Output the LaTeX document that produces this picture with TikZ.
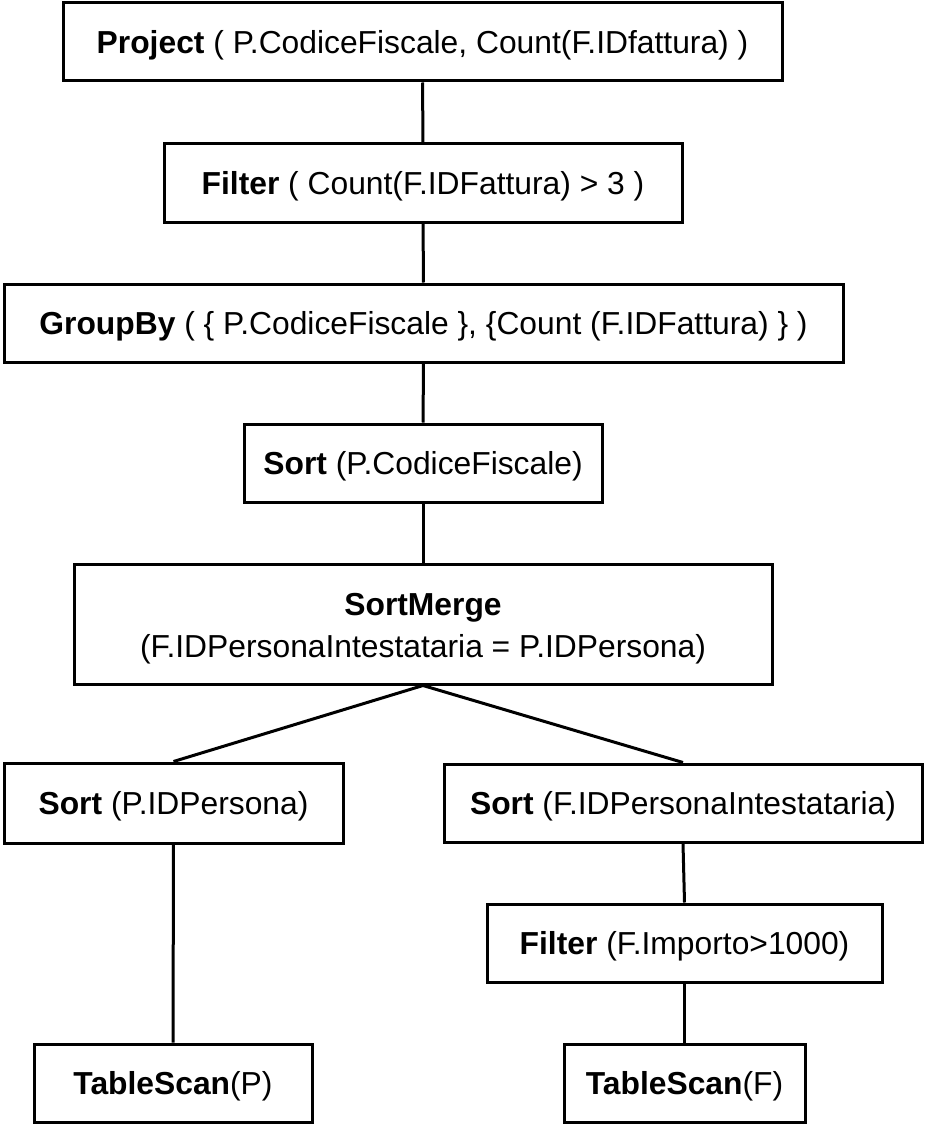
\documentclass[tikz,border=0pt]{standalone}
\usepackage{fontspec}
\setmainfont{Liberation Sans}

\begin{document}
\begin{tikzpicture}[x=1pt, y=-1pt,
  opbase/.style={draw, line width=3pt, minimum height=78pt, inner sep=0pt,
    font=\fontsize{31.8}{42}\selectfont},
  op/.style={opbase, text height=22.8pt, text depth=0pt},
  link/.style={line width=3pt}]
\useasboundingbox (0,0) rectangle (926,1126);

\draw (422.5,42) node[op, minimum width=719pt] (project) {\textbf{Project} ( P.CodiceFiscale, Count(F.IDfattura) )};
\draw (423,183) node[op, minimum width=518pt] (filter) {\textbf{Filter} ( Count(F.IDFattura) > 3 )};
\draw (423.5,323) node[op, minimum width=839pt] (groupby) {\textbf{GroupBy} ( \{ P.CodiceFiscale \}, \{Count (F.IDFattura) \} )};
\draw (423,463) node[op, minimum width=358pt] (sortcf) {\textbf{Sort} (P.CodiceFiscale)};
\draw (423,624) node[opbase, minimum width=698pt, minimum height=120pt, align=center] (sortmerge) {\rule{0pt}{31pt}\textbf{SortMerge}\\(F.IDPersonaIntestataria = P.IDPersona)};
\draw (173.5,803) node[op, minimum width=339pt, minimum height=80pt] (sortp) {\textbf{Sort} (P.IDPersona)};
\draw (683,803) node[op, minimum width=478pt] (sortf) {\textbf{Sort} (F.IDPersonaIntestataria)};
\draw (684.5,943) node[op, minimum width=395pt] (filterf) {\textbf{Filter} (F.Importo>1000)};
\draw (173,1083) node[op, minimum width=278pt] (scanp) {\textbf{TableScan}(P)};
\draw (684.5,1083) node[op, minimum width=241pt] (scanf) {\textbf{TableScan}(F)};

\draw[link] (project) -- (filter);
\draw[link] (filter) -- (groupby);
\draw[link] (groupby) -- (sortcf);
\draw[link] (sortcf) -- (sortmerge);
\draw[link] (sortmerge.south) -- (sortp.north);
\draw[link] (sortmerge.south) -- (sortf.north);
\draw[link] (sortp) -- (scanp);
\draw[link] (sortf.south) -- (filterf.north);
\draw[link] (filterf) -- (scanf);

\end{tikzpicture}
\end{document}
